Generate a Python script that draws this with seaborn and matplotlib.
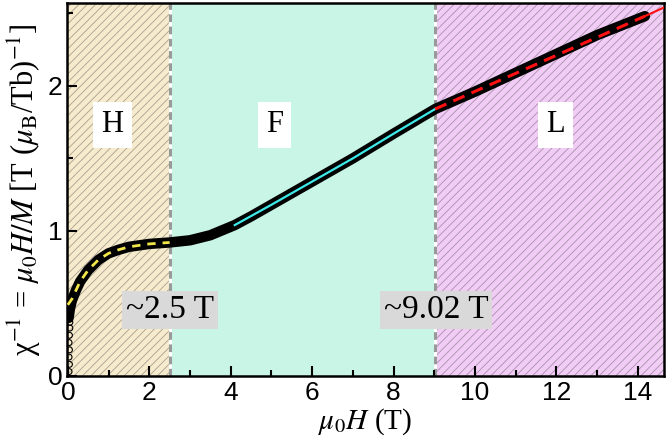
import numpy as np
import matplotlib
matplotlib.use("Agg")
import matplotlib.pyplot as plt
import seaborn as sns

field = [0.02, 0.05, 0.1, 0.2, 0.3, 0.5, 0.75, 1.0, 1.25, 1.5, 2.0, 2.5, 3.0, 3.5,
         4.1, 4.5, 5.0, 6.0, 7.0, 8.0, 9.02, 10.0, 11.0, 12.0, 13.0, 14.17]
chi_inv = [0.40, 0.46, 0.52, 0.59, 0.65, 0.73, 0.80, 0.845, 0.87, 0.89, 0.91, 0.92, 0.935, 0.97,
           1.04, 1.10, 1.18, 1.34, 1.50, 1.67, 1.84, 1.96, 2.09, 2.22, 2.35, 2.48]

# low-field open symbols
low_field = [0.03, 0.04, 0.03, 0.04, 0.03, 0.04, 0.05, 0.05]
low_chi = [0.03, 0.08, 0.13, 0.18, 0.23, 0.28, 0.33, 0.37]

# fits
fit_h_x = [0.0, 0.1, 0.2, 0.3, 0.5, 0.75, 1.0, 1.25, 1.5, 2.0, 2.5]
fit_h_y = [0.49, 0.53, 0.59, 0.65, 0.73, 0.80, 0.845, 0.87, 0.89, 0.91, 0.92]
fit_f_x = [4.1, 5.0, 6.0, 7.0, 8.0, 9.02]
fit_f_y = [1.04, 1.18, 1.34, 1.50, 1.67, 1.84]
fit_l_x = [9.02, 14.17]
fit_l_y = [1.84, 2.48]
fit_l_ext_x = [14.17, 14.64]
fit_l_ext_y = [2.48, 2.54]

boundaries = [2.5, 9.02]
region_labels = ["H", "F", "L"]
region_label_x = [1.1, 5.07, 11.98]
boundary_labels = ["~2.5 T", "~9.02 T"]

plt.rcParams["mathtext.fontset"] = "stix"
plt.rcParams["hatch.linewidth"] = 0.6

fig = plt.figure(figsize=(6.66, 4.47), dpi=100)
ax = fig.add_axes([0.1006, 0.159, 0.8964, 0.834])

ax.axvspan(-0.1, 2.5, facecolor="#f7ebcd", edgecolor="#a8a090", hatch="////", lw=0, zorder=0)
ax.axvspan(2.5, 9.02, facecolor="#c9f5e6", lw=0, zorder=0)
ax.axvspan(9.02, 15, facecolor="#f1cdf6", edgecolor="#a890aa", hatch="////", lw=0, zorder=0)

for b in boundaries:
    ax.axvline(b, color="white", lw=2.2, zorder=1)
    ax.axvline(b, color="#999999", lw=2.2, ls=(0, (2.5, 1.5)), zorder=1)

sns.lineplot(x=field, y=chi_inv, ax=ax, color="black", linewidth=7.5, zorder=3, sort=False,
             solid_capstyle="round", solid_joinstyle="round")
sns.scatterplot(x=low_field, y=low_chi, ax=ax, marker="o", s=18, facecolor="none",
                edgecolor="black", linewidth=0.8, zorder=3)
sns.lineplot(x=fit_h_x, y=fit_h_y, ax=ax, color="#f2e64a", linewidth=2, ls=(0, (3, 2.5)), zorder=4)
sns.lineplot(x=fit_f_x, y=fit_f_y, ax=ax, color="#3fe8e8", linewidth=1.6, zorder=4)
sns.lineplot(x=fit_l_x, y=fit_l_y, ax=ax, color="#ff1010", linewidth=2.2, ls=(0, (4, 2.5)), zorder=4)
sns.lineplot(x=fit_l_ext_x, y=fit_l_ext_y, ax=ax, color="#ff1010", linewidth=1.5, zorder=4)

for lab, lx in zip(region_labels, region_label_x):
    ax.text(lx, 1.73, lab, fontsize=22, family="Liberation Serif", ha="center", va="center",
            zorder=6, bbox=dict(facecolor="white", edgecolor="none", pad=6))
for lab, bx in zip(boundary_labels, boundaries):
    ax.text(bx + 0.02, 0.455, lab, fontsize=24, family="Liberation Serif", ha="center",
            va="center", zorder=6, bbox=dict(facecolor="#d9d9d9", edgecolor="none", pad=3))

ax.set_xlim(-0.02, 14.64)
ax.set_ylim(0, 2.57)
ax.set_xticks([0, 2, 4, 6, 8, 10, 12, 14])
ax.set_xticks(np.arange(1, 15, 2), minor=True)
ax.set_yticks([0, 1, 2])
ax.set_yticks([0.5, 1.5, 2.5], minor=True)
ax.tick_params(which="both", direction="in", width=1.5, labelsize=19)
ax.tick_params(which="major", length=7)
ax.tick_params(which="minor", length=4)
for lab in ax.get_xticklabels() + ax.get_yticklabels():
    lab.set_family("Liberation Sans")
for s in ax.spines.values():
    s.set_linewidth(1.8)

ax.set_xlabel(r"$\mu_0H$ (T)", fontsize=21, family="Liberation Serif", labelpad=1)
ax.set_ylabel(r"χ$^{-1}$ = $\mu_0H/M$ [T ($\mu_{\rm B}$/Tb)$^{-1}$]", fontsize=22,
              family="Liberation Serif", labelpad=3)

fig.savefig("out.png", dpi=100)
